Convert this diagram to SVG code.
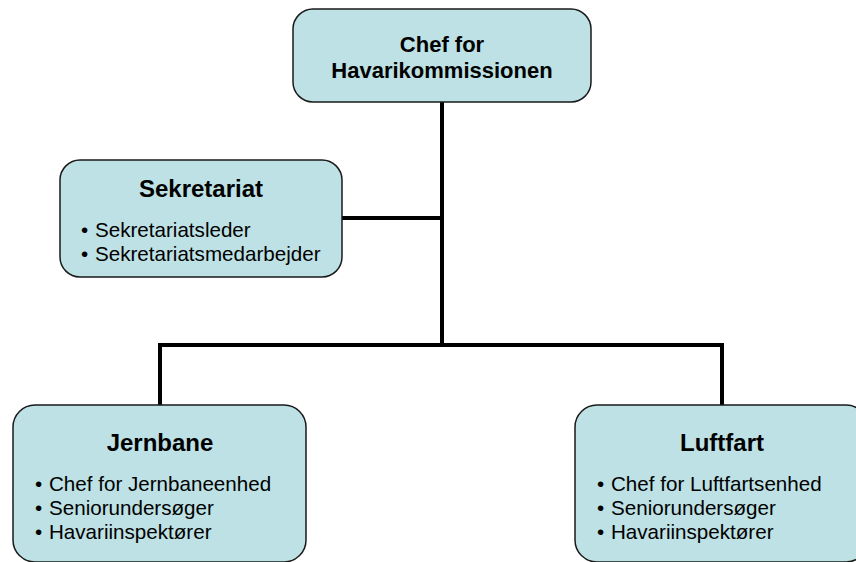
<svg xmlns="http://www.w3.org/2000/svg" width="856" height="562" viewBox="0 0 856 562">
<style>
.box{fill:#BDE1E4;stroke:#1a1a1a;stroke-width:1.5}
.t{font-family:"Liberation Sans",Arial,sans-serif;fill:#000}
.title{font-weight:bold;font-size:24px;text-anchor:middle}
.head{font-weight:bold;font-size:22px;text-anchor:middle}
.item{font-size:20.6px}
.conn{stroke:#000;stroke-width:4;fill:none;stroke-linecap:square}
</style>
<rect width="856" height="562" fill="#fff"/>
<g id="connectors">
<path class="conn" d="M442 102V345"/>
<path class="conn" d="M342 218H442"/>
<path class="conn" d="M160 405V345H722V405"/>
</g>
<g id="chef">
<rect class="box" x="293" y="9" width="298" height="93" rx="20"/>
<text class="t head" x="442" y="52">Chef for</text>
<text class="t head" x="442" y="78">Havarikommissionen</text>
</g>
<g id="sekretariat">
<rect class="box" x="60" y="160" width="282" height="117" rx="20"/>
<text class="t title" x="201" y="197">Sekretariat</text>
<text class="t item" x="81" y="237">•</text><text class="t item" x="95" y="237">Sekretariatsleder</text>
<text class="t item" x="81" y="261">•</text><text class="t item" x="95" y="261">Sekretariatsmedarbejder</text>
</g>
<g id="jernbane">
<rect class="box" x="13" y="405" width="293" height="157" rx="22"/>
<text class="t title" x="160" y="451">Jernbane</text>
<text class="t item" x="35" y="491">•</text><text class="t item" x="49" y="491">Chef for Jernbaneenhed</text>
<text class="t item" x="35" y="515">•</text><text class="t item" x="49" y="515">Seniorundersøger</text>
<text class="t item" x="35" y="539">•</text><text class="t item" x="49" y="539">Havariinspektører</text>
</g>
<g id="luftfart">
<rect class="box" x="575" y="405" width="293" height="157" rx="22"/>
<text class="t title" x="722" y="451">Luftfart</text>
<text class="t item" x="597" y="491">•</text><text class="t item" x="611" y="491">Chef for Luftfartsenhed</text>
<text class="t item" x="597" y="515">•</text><text class="t item" x="611" y="515">Seniorundersøger</text>
<text class="t item" x="597" y="539">•</text><text class="t item" x="611" y="539">Havariinspektører</text>
</g>
</svg>
